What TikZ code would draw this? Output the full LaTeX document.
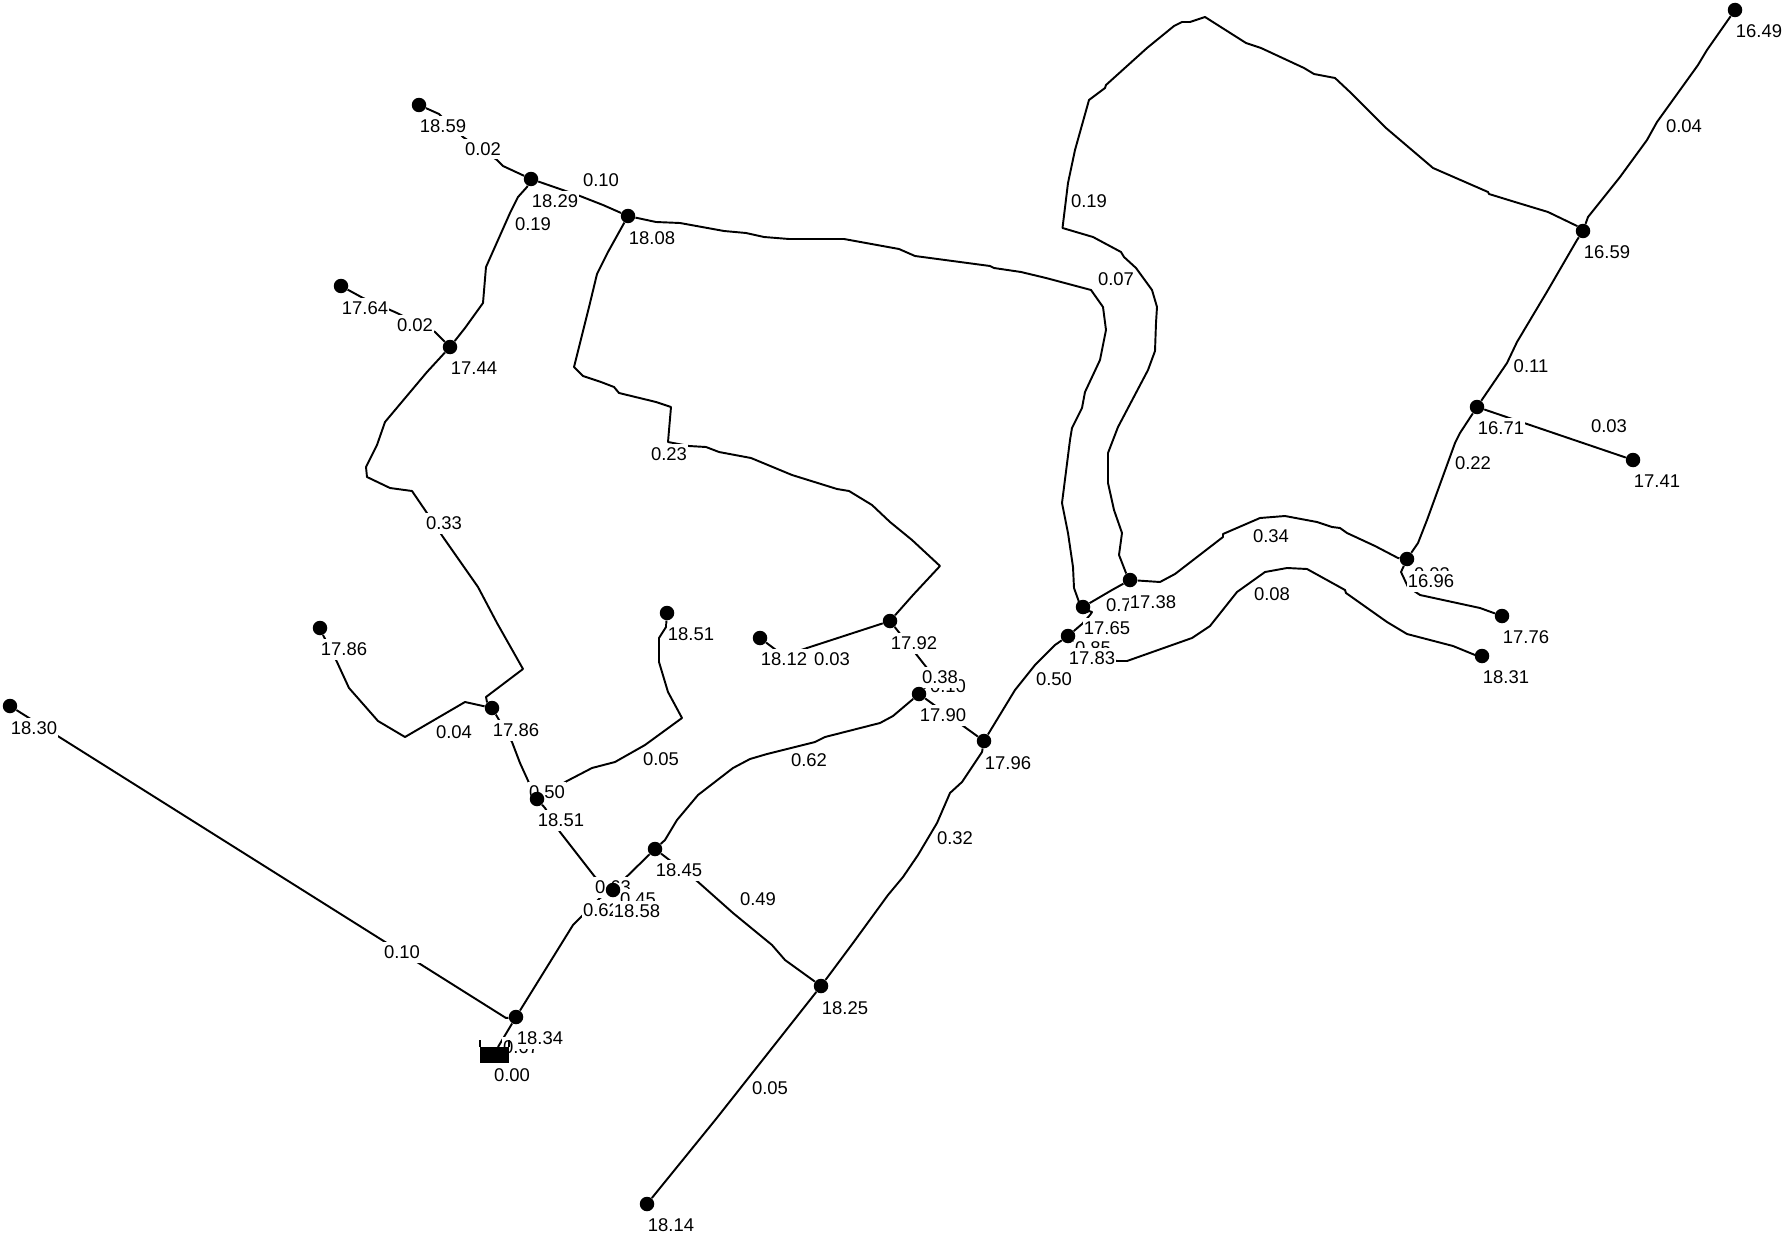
\documentclass[tikz,border=0pt]{standalone}
\usepackage{fontspec}
\setmainfont{Liberation Sans}
\usetikzlibrary{positioning,calc}
\pgfdeclarelayer{pipelayer}
\pgfdeclarelayer{labellayer}
\pgfsetlayers{pipelayer,labellayer,main}

\begin{document}
\begin{tikzpicture}[
  x=0.02cm, y=-0.02cm,
  junc/.style={circle, fill=black, draw=none, inner sep=0pt, minimum size=0.29cm},
  tank/.style={rectangle, fill=black, draw=none, inner sep=0pt,
               minimum width=0.58cm, minimum height=0.32cm},
  pipe/.style={draw=black, line width=1.1pt, line join=round},
  lab/.style={fill=white, text=black, inner xsep=0.4pt, inner ysep=0pt,
              minimum height=0.42cm, font=\fontsize{10.5pt}{12pt}\selectfont},
]

\useasboundingbox (0,0) rectangle (1782,1237);

% junctions
\node[junc] (j1859) at (419,105)   {};
\node[junc] (j1829) at (531,179)   {};
\node[junc] (j1808) at (628,216)   {};
\node[junc] (j1764) at (341,286)   {};
\node[junc] (j1744) at (450,347)   {};
\node[junc] (j1786a) at (320,628)  {};
\node[junc] (j1786b) at (492,708)  {};
\node[junc] (j1851a) at (667,613)  {};
\node[junc] (j1851b) at (537,799)  {};
\node[junc] (j1845) at (655,849)   {};
\node[junc] (j1858) at (613,890)   {};
\node[junc] (j1834) at (516,1017)  {};
\node[junc] (j1830) at (10,706)    {};
\node[junc] (j1825) at (821,986)   {};
\node[junc] (j1814) at (647,1204)  {};
\node[junc] (j1812) at (760,638)   {};
\node[junc] (j1792) at (890,621)   {};
\node[junc] (j1790) at (919,694)   {};
\node[junc] (j1796) at (984,741)   {};
\node[junc] (j1765) at (1083,607)  {};
\node[junc] (j1783) at (1068,636)  {};
\node[junc] (j1738) at (1130,580)  {};
\node[junc] (j1696) at (1407,559)  {};
\node[junc] (j1776) at (1502,616)  {};
\node[junc] (j1831) at (1482,656)  {};
\node[junc] (j1671) at (1477,407)  {};
\node[junc] (j1741) at (1633,460)  {};
\node[junc] (j1659) at (1583,231)  {};
\node[junc] (j1649) at (1735,10)   {};

% reservoir
\node[tank] (res) at (494.5,1055) {};
\draw[pipe] (res.north west) -- ++(0,-7);
\draw[pipe] (res.north east) -- ++(0,-7);

\begin{pgfonlayer}{pipelayer}
% pipes, left branch
\draw[pipe] (j1859) -- (439,114) -- (463,137) -- (497,160) -- (503,166) -- (j1829);
\draw[pipe] (j1829) -- (557,188) -- (580,196) -- (603,205) -- (j1808);
\draw[pipe] (j1829) -- (527,187) -- (518,197) -- (510,213) -- (486,267) -- (483,303) -- (465,328) -- (j1744);
\draw[pipe] (j1764) -- (363,298) -- (397,313) -- (435,332) -- (j1744);
\draw[pipe] (j1744) -- (427,372) -- (385,422) -- (377,445) -- (366,467) -- (367,477) -- (390,488)
  -- (412,491) -- (427,513) -- (443,537) -- (478,587) -- (497,623) -- (523,669) -- (486,697) -- (487,702) -- (j1786b);
\draw[pipe] (j1786a) -- (323,635) -- (337,662) -- (349,688) -- (378,721) -- (405,737) -- (465,702) -- (j1786b);
\draw[pipe] (j1786b) -- (512,742) -- (520,763) -- (530,785) -- (j1851b);
\draw[pipe] (j1851a) -- (666,627) -- (659,638) -- (659,662) -- (668,692) -- (682,718) -- (645,745)
  -- (615,762) -- (592,768) -- (567,781) -- (j1851b);
\draw[pipe] (j1851b) -- (545,808) -- (560,832) -- (595,877) -- (j1858);
\draw[pipe] (j1845) -- (j1858);
\draw[pipe] (j1858) -- (600,898) -- (583,915) -- (573,925) -- (j1834);
\draw[pipe] (j1834) -- (498,1047);
\draw[pipe] (j1830) -- (506,1018) -- (j1834);

% pipes, middle
\draw[pipe] (j1845) -- (665,840) -- (677,820) -- (698,795) -- (733,768) -- (750,759) -- (767,754)
  -- (815,742) -- (825,737) -- (880,723) -- (893,716) -- (j1790);
\draw[pipe] (j1845) -- (697,881) -- (733,913) -- (772,945) -- (785,960) -- (j1825);
\draw[pipe] (j1825) -- (853,943) -- (888,895) -- (903,877) -- (918,855) -- (937,823) -- (950,793)
  -- (962,782) -- (982,752) -- (j1796);
\draw[pipe] (j1825) -- (716,1119) -- (j1814);
\draw[pipe] (j1796) -- (1015,690) -- (1035,665) -- (1055,645) -- (j1783);
\draw[pipe] (j1796) -- (j1790);
\draw[pipe] (j1792) -- (927,668) -- (932,680) -- (j1790);
\draw[pipe] (j1812) -- (784,656) -- (807,648) -- (j1792);
\draw[pipe] (j1808) -- (608,252) -- (597,274) -- (590,303) -- (574,367) -- (583,376) -- (601,382)
  -- (614,387) -- (619,393) -- (656,402) -- (671,407) -- (668,442) -- (689,446) -- (706,447) -- (719,452)
  -- (751,458) -- (792,475) -- (837,489) -- (849,491) -- (872,505) -- (890,522) -- (912,540) -- (940,566)
  -- (913,595) -- (j1792);
\draw[pipe] (j1808) -- (656,222) -- (680,223) -- (724,231) -- (746,233) -- (764,237) -- (789,239)
  -- (844,239) -- (899,249) -- (915,256) -- (990,266) -- (994,268) -- (1021,272) -- (1046,278) -- (1091,290)
  -- (1103,307) -- (1106,330) -- (1100,360) -- (1085,392) -- (1082,408) -- (1072,428) -- (1070,440)
  -- (1062,503) -- (1068,533) -- (1073,567) -- (1074,588) -- (1079,602) -- (j1765);

% pipes, right branch
\draw[pipe] (j1738) -- (1126,573) -- (1119,555) -- (1122,533) -- (1114,510) -- (1108,483) -- (1108,453)
  -- (1118,427) -- (1148,370) -- (1155,351) -- (1156,323) -- (1157,307) -- (1152,290) -- (1136,268)
  -- (1124,257) -- (1121,252) -- (1093,237) -- (1062.5,228) -- (1068,183) -- (1075,150) -- (1089,100)
  -- (1105,88) -- (1106,85) -- (1147,48) -- (1174,26) -- (1182,22) -- (1190,22) -- (1205,17) -- (1246,43)
  -- (1261,48) -- (1304,68) -- (1314,74) -- (1335,78) -- (1351,93) -- (1355,97) -- (1386,128) -- (1433,168)
  -- (1488,192) -- (1489,194) -- (1515,202) -- (1548,212) -- (1577,226) -- (j1659);
\draw[pipe] (j1765) -- (1112,590) -- (j1738);
\draw[pipe] (j1783) -- (1082,624) -- (1090,615) -- (1092,612) -- (1086,610) -- (j1765);
\draw[pipe] (j1783) -- (1077,643) -- (1095,655) -- (1117,661) -- (1127,661) -- (1192,638) -- (1210,626)
  -- (1237,592) -- (1265,572) -- (1287,568) -- (1307,569) -- (1345,590) -- (1346,593) -- (1387,622)
  -- (1407,634) -- (1453,646) -- (1475,655) -- (j1831);
\draw[pipe] (j1738) -- (1160,582) -- (1175,574) -- (1223,537) -- (1223,534) -- (1260,518) -- (1285,516)
  -- (1317,522) -- (1332,527) -- (1340,528) -- (1347,533) -- (1375,546) -- (1398,558) -- (j1696);
\draw[pipe] (j1696) -- (1401,572) -- (1408,587) -- (1417,593) -- (1420,595) -- (1480,608) -- (j1776);
\draw[pipe] (j1696) -- (1418,543) -- (1427,520) -- (1455,443) -- (1460,433) -- (j1671);
\draw[pipe] (j1671) -- (1507,363) -- (1517,342) -- (1548,290) -- (1577,240) -- (j1659);
\draw[pipe] (j1671) -- (j1741);
\draw[pipe] (j1659) -- (1588,217) -- (1620,177) -- (1647,140) -- (1657,122) -- (1698,65) -- (1707,50) -- (j1649);
\end{pgfonlayer}

\begin{pgfonlayer}{labellayer}
% pipe flows
\node[lab] (f1) at (483,149)   {0.02};
\node[lab] (f2) at (601,180)   {0.10};
\node[lab] (f3) at (533,224)   {0.19};
\node[lab] (f4) at (415,325)   {0.02};
\node[lab] (f5) at (444,523)   {0.33};
\node[lab] (f6) at (454,732)   {0.04};
\node[lab] (f7) at (547,792)   {0.50};
\node[lab] (f8) at (661,759)   {0.05};
\node[lab] (f9) at (613,887)   {0.63};
\node[lab] (f10) at (638,899)  {0.45};
\node[lab] (f11) at (601,910)  {0.62};
\node[lab] (f12) at (521,1047) {0.67};
\node[lab] (f13) at (402,952)  {0.10};
\node[lab] (f14) at (809,760)  {0.62};
\node[lab] (f15) at (758,899)  {0.49};
\node[lab] (f16) at (955,838)  {0.32};
\node[lab] (f17) at (770,1088) {0.05};
\node[lab] (f18) at (832,659)  {0.03};
\node[lab] (f19) at (948,686)  {0.10};
\node[lab] (f20) at (940,677)  {0.38};
\node[lab] (f21) at (1054,679) {0.50};
\node[lab] (f22) at (1093,648) {0.85};
\node[lab] (f23) at (1124,605) {0.71};
\node[lab] (f24) at (1271,536) {0.34};
\node[lab] (f25) at (1272,594) {0.08};
\node[lab] (f26) at (1089,201) {0.19};
\node[lab] (f27) at (1116,279) {0.07};
\node[lab] (f28) at (669,454)  {0.23};
\node[lab] (f29) at (1609,426) {0.03};
\node[lab] (f30) at (1473,463) {0.22};
\node[lab] (f31) at (1531,366) {0.11};
\node[lab] (f32) at (1684,126) {0.04};
\node[lab] (f33) at (1432,574) {0.03};

% junction heads
\node[lab] (p1859) at (443,126)   {18.59};
\node[lab] (p1829) at (555,201)   {18.29};
\node[lab] (p1808) at (652,238)   {18.08};
\node[lab] (p1764) at (365,308)   {17.64};
\node[lab] (p1744) at (474,368)   {17.44};
\node[lab] (p1786a) at (344,649)  {17.86};
\node[lab] (p1786b) at (516,730)  {17.86};
\node[lab] (p1851a) at (691,634)  {18.51};
\node[lab] (p1851b) at (561,820)  {18.51};
\node[lab] (p1845) at (679,870)   {18.45};
\node[lab] (p1858) at (637,911)   {18.58};
\node[lab] (p1834) at (540,1038)  {18.34};
\node[lab] (p1830) at (34,728)    {18.30};
\node[lab] (p1825) at (845,1008)  {18.25};
\node[lab] (p1814) at (671,1225)  {18.14};
\node[lab] (p1812) at (784,659)   {18.12};
\node[lab] (p1792) at (914,643)   {17.92};
\node[lab] (p1790) at (943,715)   {17.90};
\node[lab] (p1796) at (1008,763)  {17.96};
\node[lab] (p1765) at (1107,628)  {17.65};
\node[lab] (p1783) at (1092,658)  {17.83};
\node[lab] (p1738) at (1153,602)  {17.38};
\node[lab] (p1696) at (1431,581)  {16.96};
\node[lab] (p1776) at (1526,637)  {17.76};
\node[lab] (p1831) at (1506,677)  {18.31};
\node[lab] (p1671) at (1501,428)  {16.71};
\node[lab] (p1741) at (1657,481)  {17.41};
\node[lab] (p1659) at (1607,252)  {16.59};
\node[lab] (p1649) at (1759,31)   {16.49};
\node[lab] (pres) at (512,1075)   {0.00};
\end{pgfonlayer}

\end{tikzpicture}
\end{document}
